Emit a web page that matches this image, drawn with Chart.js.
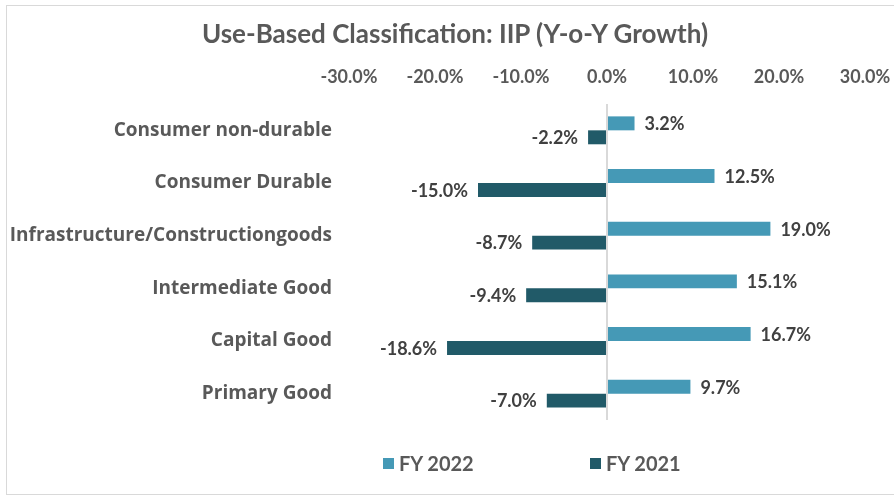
<!DOCTYPE html>
<html>
<head>
<meta charset="utf-8">
<script src="https://cdn.jsdelivr.net/npm/chart.js@4"></script>
<style>
  body { margin: 0; background: #fff; }
  #wrap { position: relative; width: 894px; height: 497px; overflow: hidden; }
  #frame { position: absolute; left: 6px; top: 5px; width: 900px; height: 488px; border: 1px solid #d9d9d9; }
  canvas { position: absolute; left: 0; top: 0; }
  #title { position: absolute; left: 0; top: 18px; width: 910px; text-align: center; font: bold 26px Lato, sans-serif; line-height: 30px; color: #595959; white-space: nowrap; }
  .leg { position: absolute; top: 451px; font: bold 20px Lato, sans-serif; color: #595959; line-height: 24px; white-space: nowrap; }
  .leg i { display: inline-block; width: 11px; height: 11px; margin-right: 5px; vertical-align: 2px; }
</style>
</head>
<body>
<div id="wrap">
  <div id="frame"></div>
  <canvas id="iipChart" width="894" height="497"></canvas>
  <div id="title">Use-Based Classification: IIP (Y-o-Y Growth)</div>
  <div class="leg" style="left:383px"><i style="background:#4599b6"></i>FY 2022</div>
  <div class="leg" style="left:590px"><i style="background:#215a68"></i>FY 2021</div>
</div>
<script>
// data
const categories = ['Consumer non-durable', 'Consumer Durable', 'Infrastructure/Constructiongoods',
                    'Intermediate Good', 'Capital Good', 'Primary Good'];
const fy2022 = [3.2, 12.5, 19.0, 15.1, 16.7, 9.7];
const fy2021 = [-2.2, -15.0, -8.7, -9.4, -18.6, -7.0];
const xTicks = [-30, -20, -10, 0, 10, 20, 30];

const font = 'Lato';
const grey = '#595959';

// value labels next to each bar
const valueLabels = {
    id: 'valueLabels',
    afterDatasetsDraw(chart) {
        const ctx = chart.ctx;
        ctx.save();
        ctx.font = `bold 18px ${font}`;
        ctx.fillStyle = '#404040';
        ctx.textBaseline = 'middle';
        chart.data.datasets.forEach((ds, i) => {
            chart.getDatasetMeta(i).data.forEach((bar, j) => {
                const v = ds.data[j];
                const txt = v.toFixed(1) + '%';
                if (v >= 0) {
                    ctx.textAlign = 'left';
                    ctx.fillText(txt, bar.x + 10, bar.y + 1);
                } else {
                    ctx.textAlign = 'right';
                    ctx.fillText(txt, bar.x - 10, bar.y + 1);
                }
            });
        });
        ctx.restore();
    }
};

const chart = new Chart(document.getElementById('iipChart'), {
    type: 'bar',
    data: {
        labels: categories,
        datasets: [
            { label: 'FY 2022', data: fy2022, backgroundColor: '#4599b6' },
            { label: 'FY 2021', data: fy2021, backgroundColor: '#215a68' }
        ]
    },
    options: {
        indexAxis: 'y',
        responsive: false,
        animation: false,
        datasets: { bar: { barPercentage: 1, categoryPercentage: 0.53 } },
        layout: { padding: { left: 2, right: 29, top: 68, bottom: 77 } },
        scales: {
            x: {
                position: 'top',
                min: -30,
                max: 30,
                afterBuildTicks: (scale) => { scale.ticks = xTicks.map(v => ({ value: v })); },
                afterFit: (scale) => {
                    scale.height = 36;
                    scale.paddingLeft = 0;
                    scale.paddingRight = 0;
                },
                ticks: {
                    padding: 16,
                    color: grey,
                    font: { family: font, size: 18, weight: 'bold' },
                    callback: (v) => v.toFixed(1) + '%'
                },
                grid: {
                    drawTicks: false,
                    lineWidth: 2,
                    color: (c) => (c.tick && c.tick.value === 0) ? '#d9d9d9' : 'rgba(0,0,0,0)'
                },
                border: { display: false }
            },
            y: {
                afterFit: (scale) => { scale.width = 347; },
                ticks: {
                    padding: 17,
                    color: grey,
                    font: { family: 'Open Sans', size: 19, weight: 'bold' }
                },
                grid: { display: false, drawTicks: false },
                border: { display: false }
            }
        },
        plugins: {
            legend: { display: false },
            tooltip: { enabled: false },
            title: { display: false }
        }
    },
    plugins: [valueLabels]
});
</script>
</body>
</html>
